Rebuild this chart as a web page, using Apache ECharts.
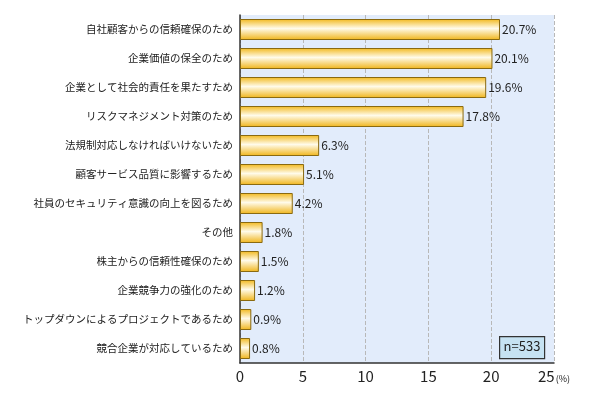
<!DOCTYPE html><html><head><meta charset="utf-8"><script src="https://cdn.jsdelivr.net/npm/echarts@6/dist/echarts.min.js"></script></head><body style="margin:0"><div id="c" style="width:590px;height:400px"></div><script>
const categories=["自社顧客からの信頼確保のため","企業価値の保全のため","企業として社会的責任を果たすため","リスクマネジメント対策のため","法規制対応しなければいけないため","顧客サービス品質に影響するため","社員のセキュリティ意識の向上を図るため","その他","株主からの信頼性確保のため","企業競争力の強化のため","トップダウンによるプロジェクトであるため","競合企業が対応しているため"];
const values=[20.7,20.1,19.6,17.8,6.3,5.1,4.2,1.8,1.5,1.2,0.9,0.8];
const ticks=[0,5,10,15,20,25];
const F="'Noto Sans CJK JP',sans-serif";
const ch=echarts.init(document.getElementById('c'));
ch.setOption({
grid:{left:240,right:36,top:15,bottom:37,backgroundColor:'#e2ecfb',show:true,borderWidth:0},
xAxis:{type:'value',min:0,max:25,interval:5,axisLine:{show:true,lineStyle:{color:'#333',width:1.5}},axisTick:{show:false},
splitLine:{lineStyle:{type:'dashed',color:'#b8b8b8'}},axisLabel:{color:'#222',fontSize:15,fontFamily:F,margin:6,formatter:v=>v==25?'{a|25}{b|(%)}':v,rich:{a:{fontSize:15,color:'#222'},b:{fontSize:9,color:'#222',padding:[4,0,0,1]}}}},
yAxis:{type:'category',inverse:true,data:categories,axisLine:{show:true,lineStyle:{color:'#333',width:1.5}},axisTick:{show:false},
axisLabel:{color:'#222',fontSize:10.5,fontFamily:F,margin:7}},
series:[{type:'bar',data:values,barWidth:21,
itemStyle:{borderColor:'#8a6a10',borderWidth:1,color:new echarts.graphic.LinearGradient(0,0,0,1,[{offset:0,color:'#f2b81c'},{offset:0.45,color:'#fffbea'},{offset:1,color:'#f0b418'}])},
label:{show:true,position:'right',distance:2,formatter:p=>p.value+'%',color:'#222',fontSize:12,fontFamily:F}}],
graphic:[{type:'group',left:499,top:336,children:[{type:'rect',shape:{width:45,height:22},style:{fill:'#c6e2f2',stroke:'#333',lineWidth:1.2}},{type:'text',left:4,top:3,style:{text:'n=533',font:'13px '+F,fill:'#222'}}]}]
});
</script></body></html>
